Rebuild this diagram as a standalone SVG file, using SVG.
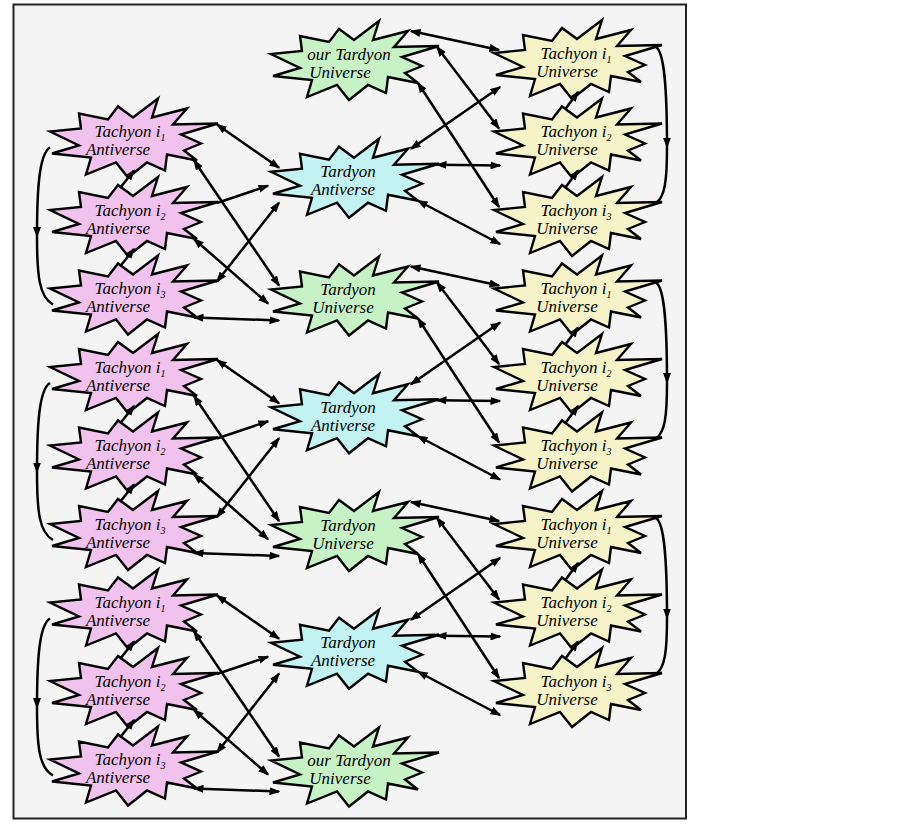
<svg xmlns="http://www.w3.org/2000/svg" xmlns:xlink="http://www.w3.org/1999/xlink" width="903" height="825" viewBox="0 0 903 825">
<style>
.bg{fill:#f4f4f4;stroke:#222;stroke-width:2}
.b{stroke:#000;stroke-width:2.4;stroke-linejoin:miter}
.pink{fill:#f2c2ee}
.green{fill:#c6f2c6}
.cyan{fill:#c2f2f2}
.yellow{fill:#f6f3c8}
text{font-family:"Liberation Serif","Times New Roman",serif;font-style:italic;font-size:17px;fill:#000;text-anchor:middle}
.sub{font-size:10px}
.c{fill:none;stroke:#000;stroke-width:2.5;marker-start:url(#ah);marker-end:url(#ah)}
.s{fill:none;stroke:#000;stroke-width:2.5;marker-end:url(#ah)}
.p{fill:none;stroke:#000;stroke-width:2.5}
</style>
<defs>
<marker id="ah" viewBox="0 0 11 8" refX="9.5" refY="4" markerWidth="11" markerHeight="8" markerUnits="userSpaceOnUse" orient="auto-start-reverse"><path d="M0,0 L11,4 L0,8 z" fill="#000"/></marker>
<polygon id="burst" class="b" points="34,-42 28,-23 63,-32 49,-16 94,-17 57,-6 77,3 60,10 73,20 43,14 41,30 23,22 4,37 -8,22 -38,34 -33,17 -72,13 -45,5 -74,-9 -43,-12 -45,-27 -16,-21 -6,-34 9,-23"/>
</defs>
<rect class="bg" x="13.5" y="4.5" width="672.5" height="814"/>

<g id="nodes">
<g id="m0" transform="translate(345,63)"><use xlink:href="#burst" class="green"/><text x="4" y="-3.5">our Tardyon</text><text x="-5" y="14.5">Universe</text></g>
<g id="m1" transform="translate(345,180.75)"><use xlink:href="#burst" class="cyan"/><text x="3" y="-3.5">Tardyon</text><text x="-2" y="14.5">Antiverse</text></g>
<g id="m2" transform="translate(345,298.5)"><use xlink:href="#burst" class="green"/><text x="3" y="-3.5">Tardyon</text><text x="-2" y="14.5">Universe</text></g>
<g id="m3" transform="translate(345,416.25)"><use xlink:href="#burst" class="cyan"/><text x="3" y="-3.5">Tardyon</text><text x="-2" y="14.5">Antiverse</text></g>
<g id="m4" transform="translate(345,534)"><use xlink:href="#burst" class="green"/><text x="3" y="-3.5">Tardyon</text><text x="-2" y="14.5">Universe</text></g>
<g id="m5" transform="translate(345,651.75)"><use xlink:href="#burst" class="cyan"/><text x="3" y="-3.5">Tardyon</text><text x="-2" y="14.5">Antiverse</text></g>
<g id="m6" transform="translate(345,769.5)"><use xlink:href="#burst" class="green"/><text x="4" y="-3.5">our Tardyon</text><text x="-5" y="14.5">Universe</text></g>

<g id="r1" transform="translate(568,62)"><use xlink:href="#burst" class="yellow"/><text x="8" y="-3.5">Tachyon i<tspan class="sub" dy="4">1</tspan></text><text x="-1" y="14.5">Universe</text></g>
<g id="r2" transform="translate(568,140.5)"><use xlink:href="#burst" class="yellow"/><text x="8" y="-3.5">Tachyon i<tspan class="sub" dy="4">2</tspan></text><text x="-1" y="14.5">Universe</text></g>
<g id="r3" transform="translate(568,219)"><use xlink:href="#burst" class="yellow"/><text x="8" y="-3.5">Tachyon i<tspan class="sub" dy="4">3</tspan></text><text x="-1" y="14.5">Universe</text></g>
<g id="r4" transform="translate(568,297.5)"><use xlink:href="#burst" class="yellow"/><text x="8" y="-3.5">Tachyon i<tspan class="sub" dy="4">1</tspan></text><text x="-1" y="14.5">Universe</text></g>
<g id="r5" transform="translate(568,376)"><use xlink:href="#burst" class="yellow"/><text x="8" y="-3.5">Tachyon i<tspan class="sub" dy="4">2</tspan></text><text x="-1" y="14.5">Universe</text></g>
<g id="r6" transform="translate(568,454.5)"><use xlink:href="#burst" class="yellow"/><text x="8" y="-3.5">Tachyon i<tspan class="sub" dy="4">3</tspan></text><text x="-1" y="14.5">Universe</text></g>
<g id="r7" transform="translate(568,533)"><use xlink:href="#burst" class="yellow"/><text x="8" y="-3.5">Tachyon i<tspan class="sub" dy="4">1</tspan></text><text x="-1" y="14.5">Universe</text></g>
<g id="r8" transform="translate(568,611.5)"><use xlink:href="#burst" class="yellow"/><text x="8" y="-3.5">Tachyon i<tspan class="sub" dy="4">2</tspan></text><text x="-1" y="14.5">Universe</text></g>
<g id="r9" transform="translate(568,690)"><use xlink:href="#burst" class="yellow"/><text x="8" y="-3.5">Tachyon i<tspan class="sub" dy="4">3</tspan></text><text x="-1" y="14.5">Universe</text></g>

<g id="l1" transform="translate(124,140.5)"><use xlink:href="#burst" class="pink"/><text x="6" y="-3.5">Tachyon i<tspan class="sub" dy="4">1</tspan></text><text x="-6" y="14.5">Antiverse</text></g>
<g id="l2" transform="translate(124,219)"><use xlink:href="#burst" class="pink"/><text x="6" y="-3.5">Tachyon i<tspan class="sub" dy="4">2</tspan></text><text x="-6" y="14.5">Antiverse</text></g>
<g id="l3" transform="translate(124,297.5)"><use xlink:href="#burst" class="pink"/><text x="6" y="-3.5">Tachyon i<tspan class="sub" dy="4">3</tspan></text><text x="-6" y="14.5">Antiverse</text></g>
<g id="l4" transform="translate(124,376)"><use xlink:href="#burst" class="pink"/><text x="6" y="-3.5">Tachyon i<tspan class="sub" dy="4">1</tspan></text><text x="-6" y="14.5">Antiverse</text></g>
<g id="l5" transform="translate(124,454.5)"><use xlink:href="#burst" class="pink"/><text x="6" y="-3.5">Tachyon i<tspan class="sub" dy="4">2</tspan></text><text x="-6" y="14.5">Antiverse</text></g>
<g id="l6" transform="translate(124,533)"><use xlink:href="#burst" class="pink"/><text x="6" y="-3.5">Tachyon i<tspan class="sub" dy="4">3</tspan></text><text x="-6" y="14.5">Antiverse</text></g>
<g id="l7" transform="translate(124,611.5)"><use xlink:href="#burst" class="pink"/><text x="6" y="-3.5">Tachyon i<tspan class="sub" dy="4">1</tspan></text><text x="-6" y="14.5">Antiverse</text></g>
<g id="l8" transform="translate(124,690)"><use xlink:href="#burst" class="pink"/><text x="6" y="-3.5">Tachyon i<tspan class="sub" dy="4">2</tspan></text><text x="-6" y="14.5">Antiverse</text></g>
<g id="l9" transform="translate(124,768.5)"><use xlink:href="#burst" class="pink"/><text x="6" y="-3.5">Tachyon i<tspan class="sub" dy="4">3</tspan></text><text x="-6" y="14.5">Antiverse</text></g>
</g>

<g id="connectors">
<path class="c" d="M411,31 L499,50"/>
<path class="c" d="M437,47 L499,128.5"/>
<path class="c" d="M418,83 L499,207"/>
<path class="c" d="M411,148.75 L500,87"/>
<path class="c" d="M437,164.75 L500,165.5"/>
<path class="c" d="M418,200.75 L500,244"/>
<path class="c" d="M411,266.5 L499,285.5"/>
<path class="c" d="M437,282.5 L499,364"/>
<path class="c" d="M418,318.5 L499,442.5"/>
<path class="c" d="M411,384.25 L500,322.5"/>
<path class="c" d="M437,400.25 L500,401"/>
<path class="c" d="M418,436.25 L500,479.5"/>
<path class="c" d="M411,502 L499,521"/>
<path class="c" d="M437,518 L499,599.5"/>
<path class="c" d="M418,554 L499,678"/>
<path class="c" d="M411,619.75 L500,558"/>
<path class="c" d="M437,635.75 L500,636.5"/>
<path class="c" d="M418,671.75 L500,715"/>

<path class="c" d="M217,124.5 L279,167.75"/>
<path class="s" d="M217,203 L268,185.75"/>
<path class="c" d="M217,281.5 L279,202.75"/>
<path class="c" d="M194,160.5 L279,285.5"/>
<path class="c" d="M194,239 L268,303.5"/>
<path class="c" d="M194,317.5 L279,320.5"/>
<path class="c" d="M217,360 L279,403.25"/>
<path class="s" d="M217,438.5 L268,421.25"/>
<path class="c" d="M217,517 L279,438.25"/>
<path class="c" d="M194,396 L279,521"/>
<path class="c" d="M194,474.5 L268,539"/>
<path class="c" d="M194,553 L279,556"/>
<path class="c" d="M217,595.5 L279,638.75"/>
<path class="s" d="M217,674 L268,656.75"/>
<path class="c" d="M217,752.5 L279,673.75"/>
<path class="c" d="M194,631.5 L279,756.5"/>
<path class="c" d="M194,710 L268,774.5"/>
<path class="c" d="M194,788.5 L279,791.5"/>

<path class="s" d="M120,188 L134,170.5"/>
<path class="s" d="M120,266.5 L134,249"/>
<path class="s" d="M120,423.5 L134,406"/>
<path class="s" d="M120,502 L134,484.5"/>
<path class="s" d="M120,659 L134,641.5"/>
<path class="s" d="M120,737.5 L134,720"/>
<path class="s" d="M565,109.5 L578,92"/>
<path class="s" d="M565,188 L578,170.5"/>
<path class="s" d="M565,345 L578,327.5"/>
<path class="s" d="M565,423.5 L578,406"/>
<path class="s" d="M565,580.5 L578,563"/>
<path class="s" d="M565,659 L578,641.5"/>

<path class="s" d="M50,147.5 C39,154 37,190 37,236.5"/>
<path class="p" d="M37,236.5 C37,275 39,297 53,304.5"/>
<path class="s" d="M50,383 C39,389.5 37,425.5 37,472"/>
<path class="p" d="M37,472 C37,510.5 39,532.5 53,540"/>
<path class="s" d="M50,618.5 C39,625 37,661 37,707.5"/>
<path class="p" d="M37,707.5 C37,746 39,768 53,775.5"/>
<path class="s" d="M656,47 C664,52 667,85 667,147"/>
<path class="p" d="M667,147 C667,180 665,197 656,203"/>
<path class="s" d="M656,282.5 C664,287.5 667,320.5 667,382.5"/>
<path class="p" d="M667,382.5 C667,415.5 665,432.5 656,438.5"/>
<path class="s" d="M656,518 C664,523 667,556 667,618"/>
<path class="p" d="M667,618 C667,651 665,668 656,674"/>
</g>
</svg>
